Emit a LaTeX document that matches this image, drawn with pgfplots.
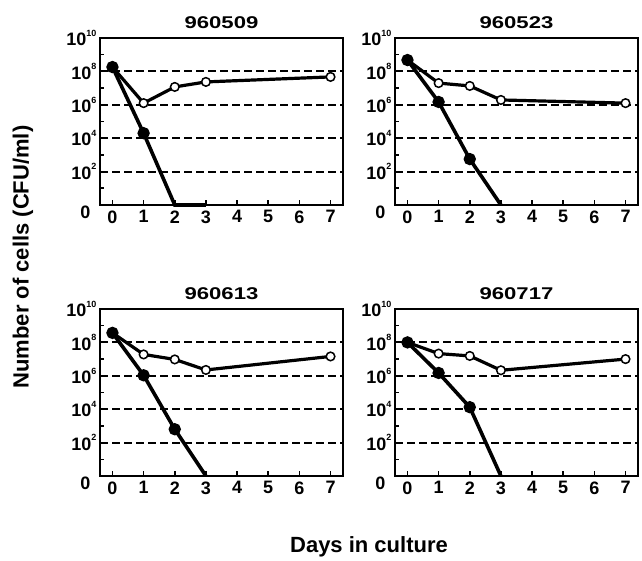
\documentclass[border=0pt]{standalone}
\usepackage{fontspec}
\setmainfont{Liberation Sans}
\newfontfamily\widefont{Liberation Sans}[FakeStretch=1.3]
\usepackage{pgfplots}
\pgfplotsset{compat=1.18}
\usetikzlibrary{calc}

% decade label: 10 with a small superscript exponent
\newcommand{\dec}[1]{10\raisebox{1ex}{\fontsize{9}{9}\selectfont #1}}

\pgfplotsset{
  panel/.style={
    scale only axis, width=243pt, height=167pt,
    xmin=-0.4, xmax=7.4, ymin=0, ymax=10,
    xtick={0,...,7},
    ytick={2,4,...,10},
    yticklabels={\dec{2},\dec{4},\dec{6},\dec{8},\dec{10}},
    extra y ticks={0}, extra y tick labels={0},
    extra y tick style={grid=none, yticklabel style={yshift=-7pt, xshift=-6pt}},
    minor ytick={1,3,...,9},
    tick pos=left, tick align=inside,
    major tick length=5pt, minor tick length=3.5pt,
    every tick/.style={black, line width=1.6pt},
    axis line style={line width=2.8pt},
    ymajorgrids, grid style={black, line width=2pt, dash pattern=on 7.5pt off 4.5pt},
    /pgf/number format/assume math mode=true,
    tick label style={font=\bfseries\fontsize{18}{18}\selectfont},
    xticklabel style={yshift=-2pt},
    title style={font=\widefont\bfseries\fontsize{17}{17}\selectfont, yshift=0pt},
    clip=false,
  },
  open/.style={black, line width=3.2pt, mark=*, mark size=4.3pt,
    mark options={fill=white, draw=black, line width=1.5pt, solid}},
  filled/.style={black, line width=3.6pt, mark=*, mark size=4.3pt,
    mark options={fill=black, solid}},
}

\begin{document}
\begin{tikzpicture}
\path[use as bounding box] (0,0) rectangle (642pt,560pt);

\begin{axis}[panel, name=p1, at={(100pt,522pt)}, anchor=north west, title={960509}]
  \addplot[open] coordinates {(0,8.26) (1,6.1) (2,7.07) (3,7.37) (7,7.67)};
  \addplot[filled, mark indices={1,2}] coordinates {(0,8.26) (1,4.3) (2,0) (3,0)};
\end{axis}

\begin{axis}[panel, name=p2, at={(395pt,522pt)}, anchor=north west, title={960523}]
  \addplot[open] coordinates {(0,8.68) (1,7.3) (2,7.13) (3,6.29) (7,6.1)};
  \addplot[filled, mark indices={1,2,3}] coordinates {(0,8.68) (1,6.17) (2,2.75) (3,0)};
\end{axis}

\begin{axis}[panel, name=p3, at={(100pt,251pt)}, anchor=north west, title={960613}]
  \addplot[open] coordinates {(0,8.57) (1,7.28) (2,6.98) (3,6.35) (7,7.16)};
  \addplot[filled, mark indices={1,2,3}] coordinates {(0,8.57) (1,6.03) (2,2.8) (3,0)};
\end{axis}

\begin{axis}[panel, name=p4, at={(395pt,251pt)}, anchor=north west, title={960717}]
  \addplot[open] coordinates {(0,8.0) (1,7.33) (2,7.19) (3,6.33) (7,7.0)};
  \addplot[filled, mark indices={1,2,3}] coordinates {(0,8.0) (1,6.17) (2,4.12) (3,0)};
\end{axis}

\node[font=\bfseries\fontsize{22}{22}\selectfont, rotate=90]
  at ($(p1.north west)!0.5!(p3.south west)+(-77pt,0)$) {Number of cells (CFU/ml)};
\node[font=\bfseries\fontsize{22}{22}\selectfont]
  at ($(p3.south west)!0.5!(p4.south east)+(0,-71pt)$) {Days in culture};
\end{tikzpicture}
\end{document}
